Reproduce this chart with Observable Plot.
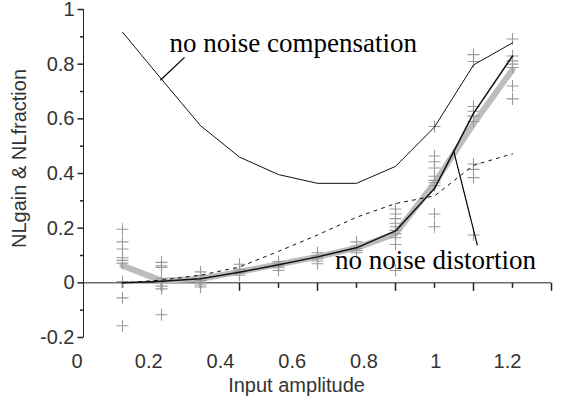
<!DOCTYPE html>
<html>
<head>
<meta charset="utf-8">
<script src="https://cdn.jsdelivr.net/npm/d3@7"></script>
<script src="https://cdn.jsdelivr.net/npm/@observablehq/plot@0.6"></script>
<style>
  html, body { margin: 0; padding: 0; background: #fff; }
  #chart { position: relative; width: 568px; height: 400px; }
  #chart svg { position: absolute; left: 0; background: transparent !important; }
</style>
</head>
<body>
<div id="chart"></div>
<script>
// Input amplitudes at which the measurements were taken
const amplitudes = [0.1, 0.2, 0.3, 0.4, 0.5, 0.6, 0.7, 0.8, 0.9, 1.0, 1.1];

// Curve without noise compensation (thin upper line)
const noCompensation = [0.917, 0.745, 0.575, 0.46, 0.396, 0.364, 0.364, 0.426, 0.57, 0.797, 0.878];
// Curve without noise distortion (solid black)
const noDistortion = [0.0, 0.006, 0.015, 0.039, 0.066, 0.095, 0.128, 0.19, 0.345, 0.62, 0.83];
// Mean over trials (thick grey)
const trialMean = [0.063, 0.008, 0.015, 0.04, 0.068, 0.095, 0.128, 0.18, 0.365, 0.582, 0.78];
// NLfraction (dotted)
const nlFraction = [0.0, 0.01, 0.028, 0.058, 0.115, 0.175, 0.24, 0.29, 0.318, 0.43, 0.472];

// Individual trials, one list per amplitude
const trials = [
  [0.196, 0.15, 0.124, 0.092, 0.082, 0.072, 0.005, -0.055, -0.157],
  [0.075, 0.062, 0.056, 0.016, 0.002, -0.012, -0.022, -0.117],
  [0.04, 0.027, 0.016, 0.008, 0.002, -0.008, -0.015],
  [0.068, 0.05, 0.042, 0.035, 0.028],
  [0.078, 0.07, 0.062, 0.055, 0.045],
  [0.11, 0.1, 0.094, 0.088, 0.08, 0.07],
  [0.15, 0.135, 0.125, 0.118, 0.11],
  [0.27, 0.252, 0.235, 0.218, 0.205, 0.192, 0.18, 0.165, 0.14, 0.045],
  [0.572, 0.464, 0.443, 0.42, 0.39, 0.375, 0.366, 0.355, 0.252, 0.205],
  [0.835, 0.81, 0.645, 0.628, 0.61, 0.59, 0.435, 0.415, 0.385, 0.175],
  [0.892, 0.83, 0.812, 0.8, 0.788, 0.72, 0.673]
];

// Axis ticks and labels
const xTicksMajor = [0.2, 0.4, 0.6, 0.8, 1.0, 1.2];
const xTicksMinor = [0.1, 0.3, 0.5, 0.7, 0.9, 1.1];
const yTicksMajor = [-0.2, 0, 0.2, 0.4, 0.6, 0.8, 1];
const yTicksMinor = [-0.1, 0.1, 0.3, 0.5, 0.7, 0.9];
const xTickLabels = [0, 0.2, 0.4, 0.6, 0.8, 1, 1.2];
const xTitle = "Input amplitude";
const yTitle = "NLgain & NLfraction";

// Annotations: text anchor (baseline start) and leader line ends
const notes = [
  {text: "no noise compensation", x: 0.2205, y: 0.843, x1: 0.259, y1: 0.825, x2: 0.197, y2: 0.741},
  {text: "no noise distortion", x: 0.645, y: 0.052, x1: 0.949, y1: 0.484, x2: 1.01, y2: 0.137}
];

const sans = "Liberation Sans, Arial, Helvetica, sans-serif";
const serif = "Liberation Serif, Times New Roman, serif";

// Line-style symbols for tick marks and the trial crosses (length = r)
const tickDown = {draw(ctx, size) { const l = Math.sqrt(size / Math.PI); ctx.moveTo(0, 0); ctx.lineTo(0, l); }};
const tickLeft = {draw(ctx, size) { const l = Math.sqrt(size / Math.PI); ctx.moveTo(0, 0); ctx.lineTo(-l, 0); }};
const crossMark = {draw(ctx, size) { const l = Math.sqrt(size / Math.PI); ctx.moveTo(-l, 0); ctx.lineTo(l, 0); ctx.moveTo(0, -l); ctx.lineTo(0, l); }};

const series = (values) => amplitudes.map((a, i) => ({x: a, y: values[i]}));
const trialPoints = trials.flatMap((vals, i) => vals.map(v => ({x: amplitudes[i], y: v})));

const main = Plot.plot({
  width: 568,
  height: 400,
  marginLeft: 83,
  marginRight: 17,
  marginTop: 9,
  marginBottom: 63,
  x: {domain: [0, 1.2], axis: null},
  y: {domain: [-0.2, 1], axis: null},
  style: {background: "transparent"},
  marks: [
    // axes drawn through the origin
    Plot.ruleX([0], {y1: -0.2, y2: 1, stroke: "#222", strokeWidth: 1}),
    Plot.ruleY([0], {x1: 0, x2: 1.2, stroke: "#222", strokeWidth: 1}),
    Plot.dot(xTicksMajor, {x: d => d, y: 0, symbol: tickDown, r: 8, stroke: "#222", fill: "none"}),
    Plot.dot(xTicksMinor, {x: d => d, y: 0, symbol: tickDown, r: 5, stroke: "#222", fill: "none"}),
    Plot.dot(yTicksMajor, {x: 0, y: d => d, symbol: tickLeft, r: 6, stroke: "#222", fill: "none"}),
    Plot.dot(yTicksMinor, {x: 0, y: d => d, symbol: tickLeft, r: 3.5, stroke: "#222", fill: "none"}),
    Plot.text(yTicksMajor, {x: 0, y: d => d, text: d => String(d), textAnchor: "end", dx: -9,
      fontSize: 20, fontFamily: sans, fill: "#333"}),
    Plot.text([yTitle], {frameAnchor: "left", textAnchor: "middle", lineAnchor: "middle", rotate: -90,
      dx: -64, dy: -15, fontSize: 20, fontFamily: sans, fill: "#333"}),

    // mean over trials
    Plot.line(series(trialMean), {x: "x", y: "y", stroke: "#bdbdbd", strokeWidth: 6, strokeLinejoin: "round"}),
    // individual trials
    Plot.dot(trialPoints, {x: "x", y: "y", symbol: crossMark, r: 6, stroke: "#9a9a9a", strokeWidth: 1.1, fill: "none"}),
    // reference curves
    Plot.line(series(nlFraction), {x: "x", y: "y", stroke: "#111", strokeWidth: 1, strokeDasharray: "3,5"}),
    Plot.line(series(noDistortion), {x: "x", y: "y", stroke: "#111", strokeWidth: 1.5}),
    Plot.line(series(noCompensation), {x: "x", y: "y", stroke: "#111", strokeWidth: 1}),

    // annotations
    Plot.link(notes, {x1: "x1", y1: "y1", x2: "x2", y2: "y2", stroke: "#000", strokeWidth: 1.2}),
    Plot.text(notes, {x: "x", y: "y", text: "text", textAnchor: "start", lineAnchor: "bottom",
      fontSize: 27, fontFamily: serif, fill: "#000"})
  ]
});
main.style.top = "0px";

// Tick labels and title along the bottom
const bottom = Plot.plot({
  width: 568,
  height: 60,
  marginTop: 0,
  marginBottom: 0,
  marginLeft: 0,
  marginRight: 0,
  x: {domain: [0, 1.2], range: [76.5, 507], axis: null},
  style: {background: "transparent"},
  marks: [
    Plot.text(xTickLabels, {x: d => d, frameAnchor: "top", lineAnchor: "middle", dy: 21,
      text: d => String(d), fontSize: 20, fontFamily: sans, fill: "#333"}),
    Plot.text([xTitle], {x: 0.612, frameAnchor: "top", lineAnchor: "middle", dy: 45,
      fontSize: 20, fontFamily: sans, fill: "#333"})
  ]
});
bottom.style.top = "340px";

const chart = document.getElementById("chart");
chart.appendChild(main);
chart.appendChild(bottom);
</script>
</body>
</html>
